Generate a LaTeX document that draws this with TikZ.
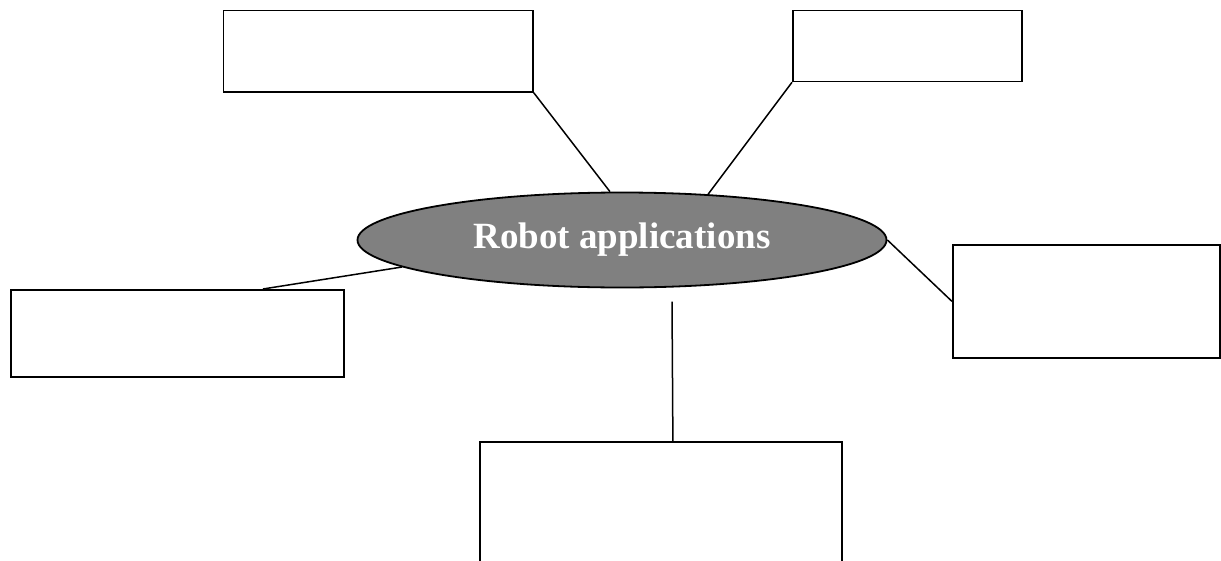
\documentclass[tikz,border=0pt]{standalone}
\usepackage{fontspec}
\setmainfont{Liberation Serif}
\usetikzlibrary{shapes.geometric}
\definecolor{hubgray}{HTML}{808080}
\begin{document}
\begin{tikzpicture}[x=1pt,y=-1pt,
  line width=1.8pt,
  emptybox/.style={draw=black, fill=white, inner sep=0pt, anchor=north west},
  hub/.style={ellipse, draw=black, fill=hubgray, inner sep=0pt,
    minimum width=529pt, minimum height=95pt, text=white,
    font=\fontsize{37}{44}\selectfont\bfseries},
  link/.style={draw=black, line width=1.5pt}]
  \useasboundingbox (0,0) rectangle (1221,560);

  % central topic
  \node[hub] (hub) at (622,240) {Robot applications};

  % surrounding (empty) boxes
  \node[emptybox, minimum width=309.5pt, minimum height=81.5pt] (tl) at (222.5,9.5) {};
  \node[emptybox, minimum width=229pt,   minimum height=71pt]   (tr) at (792,9.5) {};
  \node[emptybox, minimum width=333pt,   minimum height=87pt]   (lf) at (10,289) {};
  \node[emptybox, minimum width=267pt,   minimum height=113pt]  (rt) at (952,244) {};
  \node[emptybox, minimum width=362pt,   minimum height=150pt]  (bt) at (479,441) {};

  % loose end of the lower connector
  \coordinate (below) at (672,301.5);

  % connectors
  \draw[link] (tl.south east) -- (hub.104);
  \draw[link] (tr.south west) -- (hub.28);
  \draw[link] ([xshift=85.5pt]lf.north) -- (hub.187.7);
  \draw[link] (hub.east) -- (rt.west);
  \draw[link] (below) -- ([xshift=12pt]bt.north);
\end{tikzpicture}
\end{document}
